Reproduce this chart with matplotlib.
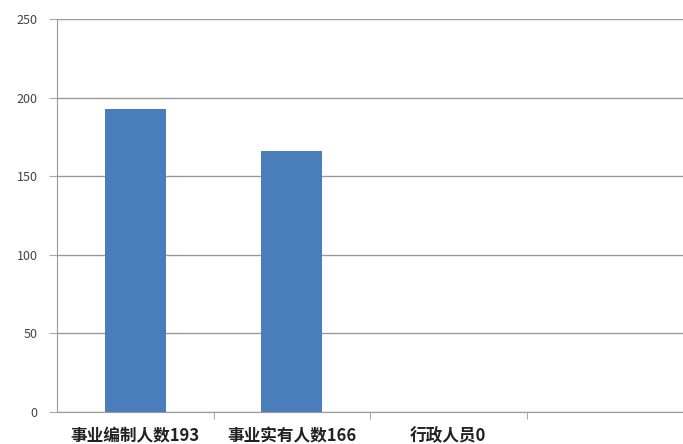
import numpy as np
import matplotlib.pyplot as plt

plt.rcParams['font.family'] = ['Noto Sans CJK SC', 'DejaVu Sans']

# data
labels = ['事业编制人数193', '事业实有人数166', '行政人员0', '']
values = [193, 166, 0, 0]

fig = plt.figure(figsize=(6.83, 4.44), dpi=100)
ax = fig.add_axes([57 / 683, 1 - 412 / 444, 1 - 57 / 683, (412 - 19) / 444])

x = np.arange(len(labels))
ax.bar(x, values, width=0.39, color='#4a7ebb', zorder=3)

ax.set_xlim(-0.5, len(labels) - 0.5)
ax.set_ylim(0, 250)
ax.set_yticks(np.arange(0, 251, 50))
ax.yaxis.grid(True, color='#9a9a9a', linewidth=1.0, zorder=0)

# category labels centred, tick marks at slot boundaries
ax.set_xticks(x)
ax.set_xticklabels(labels, fontsize=12, color='#222222', fontweight='bold')
ax.tick_params(axis='x', which='major', length=0, pad=11)
ax.set_xticks(np.arange(0.5, len(labels) - 0.5, 1.0), minor=True)
ax.tick_params(axis='x', which='minor', length=5, color='#999999', direction='out')

ax.tick_params(axis='y', length=6, color='#aaaaaa', labelsize=9,
               labelcolor='#444444', pad=8)

for side in ['top', 'right']:
    ax.spines[side].set_visible(False)
ax.spines['left'].set_color('#999999')
ax.spines['bottom'].set_color('#999999')

fig.savefig('out.png', dpi=100)
